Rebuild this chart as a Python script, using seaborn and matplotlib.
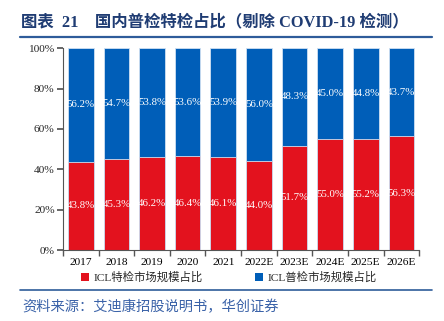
import matplotlib
matplotlib.use("Agg")
import matplotlib.pyplot as plt
import seaborn as sns
import pandas as pd
import numpy as np
from matplotlib.lines import Line2D
from matplotlib.patches import Patch

years = ["2017", "2018", "2019", "2020", "2021", "2022E", "2023E", "2024E", "2025E", "2026E"]
special = [43.8, 45.3, 46.2, 46.4, 46.1, 44.0, 51.7, 55.0, 55.2, 56.3]
general = [56.2, 54.7, 53.8, 53.6, 53.9, 56.0, 48.3, 45.0, 44.8, 43.7]
series_names = ["ICL特检市场规模占比", "ICL普检市场规模占比"]

RED = "#E3121E"
BLUE = "#005EB8"
NAVY = "#1F3C73"

sns.set_theme(style="white")
plt.rcParams["font.family"] = ["Liberation Serif", "Noto Sans CJK SC", "DejaVu Sans"]

df = pd.DataFrame({"year": years, "special": special, "general": general})
df["total"] = df["special"] + df["general"]

fig = plt.figure(figsize=(4.44, 3.21), dpi=100)
ax = fig.add_axes([0.142, 0.221, 0.802, 0.629])

sns.barplot(data=df, x="year", y="total", color=BLUE, width=0.72, ax=ax,
            edgecolor="#cfe0f2", linewidth=0.6, saturation=1)
sns.barplot(data=df, x="year", y="special", color=RED, width=0.72, ax=ax,
            edgecolor="#cfe0f2", linewidth=0.6, saturation=1)

for i, (s, g) in enumerate(zip(special, general)):
    ax.text(i, s / 2, f"{s:.1f}%", ha="center", va="center", color="white", fontsize=7.8)
    ax.text(i, s + g / 2, f"{g:.1f}%", ha="center", va="center", color="white", fontsize=7.8)

ax.set_ylim(0, 100)
ax.set_xlim(-0.5, 9.5)
ax.set_yticks(np.arange(0, 101, 20))
ax.set_yticklabels([f"{v}%" for v in range(0, 101, 20)], fontsize=8.2)
ax.set_xticks(range(len(years)))
ax.set_xticklabels(years, fontsize=8.2)
ax.set_xticks(np.arange(-0.5, 10, 1), minor=True)
ax.tick_params(axis="x", which="major", length=0, pad=6, colors="black")
ax.tick_params(axis="x", which="minor", length=4, direction="out", color="#555555", bottom=True)
ax.tick_params(axis="y", length=4, direction="out", color="#555555", left=True, pad=2)
ax.set_xlabel("")
ax.set_ylabel("")
for sp in ["top", "right"]:
    ax.spines[sp].set_visible(False)
for sp in ["left", "bottom"]:
    ax.spines[sp].set_color("#555555")
    ax.spines[sp].set_linewidth(0.8)

handles = [Patch(facecolor=RED, edgecolor="none"), Patch(facecolor=BLUE, edgecolor="none")]
fig.legend(handles, series_names, loc="center", bbox_to_anchor=(0.515, 0.137), ncol=2,
           frameon=False, fontsize=8.2, handlelength=0.7, handleheight=0.7,
           columnspacing=4.6, handletextpad=0.4)

fig.text(0.047, 0.929, "图表  21    国内普检特检占比（剔除 COVID-19 检测）", fontsize=11.8,
         fontweight="bold", color=NAVY, va="center", ha="left")
fig.add_artist(Line2D([0.045, 0.973], [0.885, 0.885], color="#2E5C9A", lw=1.6))
fig.add_artist(Line2D([0.045, 0.973], [0.097, 0.097], color="#2E5C9A", lw=1.2))
fig.text(0.05, 0.044, "资料来源：艾迪康招股说明书，华创证券", fontsize=10.3, style="italic",
         color="#3A62A8", va="center", ha="left")

fig.savefig("out.png", dpi=100)
